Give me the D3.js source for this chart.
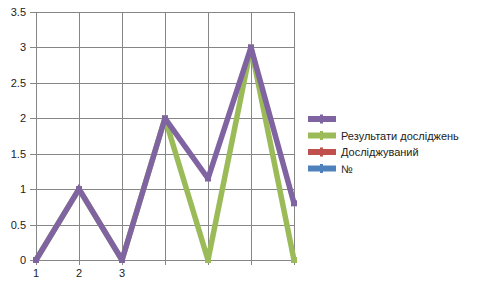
<!DOCTYPE html>
<html><head><meta charset="utf-8">
<script src="https://cdn.jsdelivr.net/npm/d3@7"></script>
<style>body{margin:0;background:#fff}svg{display:block}text{font-family:"Liberation Sans",Arial,sans-serif;font-size:11px;fill:#222}</style>
</head><body>
<script>
const categories = ["1","2","3","","","",""];
const seriesNames = ["№","Досліджуваний","Результати досліджень",""];
const seriesColors = ["#4F81BD","#C0504D","#9BBB59","#8064A2"];
const seriesShowLine = [false,false,true,true];
const valuesNo = [0,null,0,null,0,null,0];
const valuesSubject = [0,null,0,null,0,null,0];
const valuesResults = [0,1,0,2,0,3,0];
const valuesUnnamed = [0,0,0,0,1.15,0,0.8];
const yTicks = [0,0.5,1,1.5,2,2.5,3,3.5];

const W=480,H=288;
const svg=d3.select("body").append("svg").attr("width",W).attr("height",H);
const x=d3.scalePoint().domain(d3.range(categories.length)).range([36,294]);
const y=d3.scaleLinear().domain([0,3.5]).range([260,12]);

const raw=[valuesNo,valuesSubject,valuesResults,valuesUnnamed];
const rows=categories.map((c,i)=>({i,s0:valuesNo[i],s1:valuesSubject[i],s2:valuesResults[i],s3:valuesUnnamed[i]}));
const stacked=d3.stack().keys(["s0","s1","s2","s3"]).value((d,key)=>d[key]==null?0:d[key])(rows);

const grid=svg.append("g");
grid.selectAll(".h").data(yTicks).join("line")
  .attr("x1",30).attr("x2",294).attr("y1",d=>Math.round(y(d))+0.5).attr("y2",d=>Math.round(y(d))+0.5)
  .attr("stroke","#868686").attr("stroke-width",1);
grid.selectAll(".v").data(d3.range(categories.length)).join("line")
  .attr("x1",d=>Math.round(x(d))+0.5).attr("x2",d=>Math.round(x(d))+0.5).attr("y1",12).attr("y2",265)
  .attr("stroke","#868686").attr("stroke-width",1);

svg.selectAll(".yl").data(yTicks).join("text")
  .attr("x",26).attr("y",d=>y(d)+4).attr("text-anchor","end").text(d=>d);
svg.selectAll(".xl").data(categories).join("text")
  .attr("x",(d,i)=>x(i)).attr("y",277).attr("text-anchor","middle").text(d=>d);

const line=d3.line().x(d=>x(d.data.i)).y(d=>y(d[1]));
stacked.forEach((s,k)=>{
  if(seriesShowLine[k]) svg.append("path").datum(s).attr("d",line).attr("fill","none")
    .attr("stroke",seriesColors[k]).attr("stroke-width",5.5).attr("stroke-linejoin","miter").attr("stroke-miterlimit",2);
  svg.append("g").selectAll("rect").data(s.filter(d=>raw[k][d.data.i]!=null)).join("rect")
    .attr("x",d=>x(d.data.i)-3).attr("y",d=>y(d[1])-3).attr("width",6).attr("height",6)
    .attr("fill",seriesColors[k]);
});

const legendOrder=[3,2,1,0];
const lg=svg.append("g");
legendOrder.forEach((k,j)=>{
  const yy=119+j*16.5;
  lg.append("line").attr("x1",308).attr("x2",336).attr("y1",yy).attr("y2",yy)
    .attr("stroke",seriesColors[k]).attr("stroke-width",6);
  lg.append("rect").attr("x",320).attr("y",yy-4.5).attr("width",3).attr("height",9).attr("fill",seriesColors[k]);
  lg.append("text").attr("x",341).attr("y",yy+4).text(seriesNames[k]);
});
</script>
</body></html>
